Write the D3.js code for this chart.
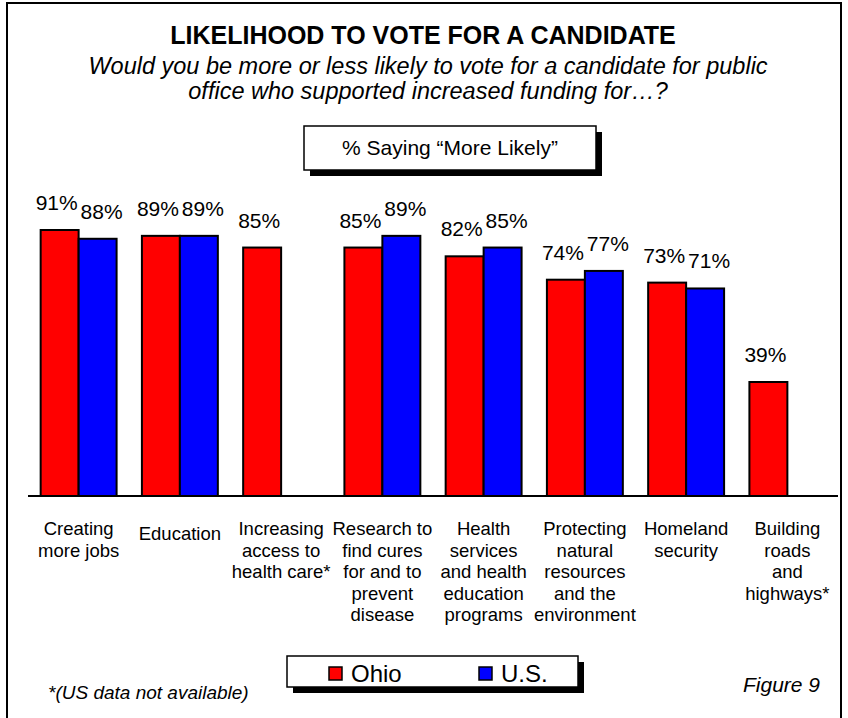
<!DOCTYPE html>
<meta charset="utf-8">
<style>

    body { margin: 0; background: #fff; }

    .chart text {
        font-family: Arial, "Liberation Sans", sans-serif;
        fill: #000;
    }

</style>
<svg class="chart"></svg>
<script src="https://d3js.org/d3.v7.min.js" charset="utf-8"></script>
<script>

    // data
    var categories = [
        "Creating\nmore jobs",
        "Education",
        "Increasing\naccess to\nhealth care*",
        "Research to\nfind cures\nfor and to\nprevent\ndisease",
        "Health\nservices\nand health\neducation\nprograms",
        "Protecting\nnatural\nresources\nand the\nenvironment",
        "Homeland\nsecurity",
        "Building\nroads\nand\nhighways*"
    ];
    var seriesNames = ["Ohio", "U.S."];
    var ohioValues = [91, 89, 85, 85, 82, 74, 73, 39];
    var usValues = [88, 89, null, 89, 85, 77, 71, null]; // US data not available for two items
    var seriesColors = ["#ff0000", "#0000ff"];

    var width = 848,
        height = 718;

    var svg = d3.select(".chart")
        .attr("width", width)
        .attr("height", height);

    var x0 = d3.scaleBand()
        .domain(categories)
        .range([28, 838])
        .paddingInner(0.25)
        .paddingOuter(0.125);

    var x1 = d3.scaleBand()
        .domain(seriesNames)
        .range([0, x0.bandwidth()]);

    var y = d3.scaleLinear()
        .domain([0, 100])
        .range([496, 203.7]);

    var color = d3.scaleOrdinal()
        .domain(seriesNames)
        .range(seriesColors);

    // outer frame
    svg.append("rect")
        .attr("x", 7).attr("y", 3)
        .attr("width", 834).attr("height", 740)
        .attr("fill", "none")
        .attr("stroke", "#000")
        .attr("stroke-width", 2);

    // titles
    svg.append("text")
        .attr("x", 423).attr("y", 44)
        .attr("text-anchor", "middle")
        .style("font-size", "25px")
        .style("font-weight", "bold")
        .text("LIKELIHOOD TO VOTE FOR A CANDIDATE");

    var sub = svg.append("text")
        .attr("text-anchor", "middle")
        .style("font-size", "23.5px")
        .style("font-style", "italic");
    sub.append("tspan").attr("x", 428).attr("y", 74)
        .text("Would you be more or less likely to vote for a candidate for public");
    sub.append("tspan").attr("x", 428).attr("y", 99)
        .text("office who supported increased funding for\u2026?");

    // boxed caption with drop shadow
    function shadowBox(bx, by, bw, bh) {
        svg.append("rect")
            .attr("x", bx + 6).attr("y", by + 6)
            .attr("width", bw).attr("height", bh)
            .attr("fill", "#000");
        svg.append("rect")
            .attr("x", bx).attr("y", by)
            .attr("width", bw).attr("height", bh)
            .attr("fill", "#fff")
            .attr("stroke", "#000")
            .attr("stroke-width", 1.5);
    }

    shadowBox(304, 126, 292, 44);
    svg.append("text")
        .attr("x", 450).attr("y", 155)
        .attr("text-anchor", "middle")
        .style("font-size", "21px")
        .text("% Saying \u201cMore Likely\u201d");

    // bars
    var rows = categories.map(function(c, i) {
        return {
            name: c,
            values: [
                { key: "Ohio", value: ohioValues[i] },
                { key: "U.S.", value: usValues[i] }
            ].filter(function(d) { return d.value != null; })
        };
    });

    var group = svg.selectAll("g.group")
        .data(rows)
        .enter().append("g")
        .attr("class", "group")
        .attr("transform", function(d) { return "translate(" + x0(d.name) + ",0)"; });

    group.selectAll("rect")
        .data(function(d) { return d.values; })
        .enter().append("rect")
        .attr("x", function(d) { return x1(d.key); })
        .attr("y", function(d) { return y(d.value); })
        .attr("width", x1.bandwidth())
        .attr("height", function(d) { return y(0) - y(d.value); })
        .attr("fill", function(d) { return color(d.key); })
        .attr("stroke", "#000")
        .attr("stroke-width", 2);

    group.selectAll("text.value")
        .data(function(d) { return d.values; })
        .enter().append("text")
        .attr("class", "value")
        .attr("x", function(d) { return x1(d.key) + x1.bandwidth() / 2 + (d.key == "Ohio" ? -3 : 4); })
        .attr("y", function(d) { return y(d.value) - 20; })
        .attr("text-anchor", "middle")
        .style("font-size", "21px")
        .text(function(d) { return d.value + "%"; });

    // baseline
    svg.append("line")
        .attr("x1", 28).attr("x2", 838)
        .attr("y1", y(0)).attr("y2", y(0))
        .attr("stroke", "#000")
        .attr("stroke-width", 2);

    // category labels
    var label = svg.selectAll("text.cat")
        .data(categories)
        .enter().append("text")
        .attr("class", "cat")
        .attr("text-anchor", "middle")
        .style("font-size", "18.5px")
        .attr("transform", function(d) {
            var lines = d.split("\n").length;
            return "translate(" + (x0(d) + x0.bandwidth() / 2) + "," + (535 + (lines == 1 ? 5 : 0)) + ")";
        });

    label.selectAll("tspan")
        .data(function(d) { return d.split("\n"); })
        .enter().append("tspan")
        .attr("x", 0)
        .attr("y", function(d, i) { return i * 21.5; })
        .text(function(d) { return d; });

    // legend
    shadowBox(287, 656, 291, 31);
    var legend = svg.selectAll("g.legend")
        .data(seriesNames)
        .enter().append("g")
        .attr("class", "legend")
        .attr("transform", function(d, i) { return "translate(" + (329 + i * 150) + ",667)"; });

    legend.append("rect")
        .attr("width", 13).attr("height", 13)
        .attr("fill", function(d) { return color(d); })
        .attr("stroke", "#000")
        .attr("stroke-width", 1.5);

    legend.append("text")
        .attr("x", 22).attr("y", 15)
        .style("font-size", "24px")
        .text(function(d) { return d; });

    // footnotes
    svg.append("text")
        .attr("x", 48).attr("y", 699)
        .style("font-size", "19px")
        .style("font-style", "italic")
        .text("*(US data not available)");

    svg.append("text")
        .attr("x", 743).attr("y", 692)
        .style("font-size", "21px")
        .style("font-style", "italic")
        .text("Figure 9");

</script>
